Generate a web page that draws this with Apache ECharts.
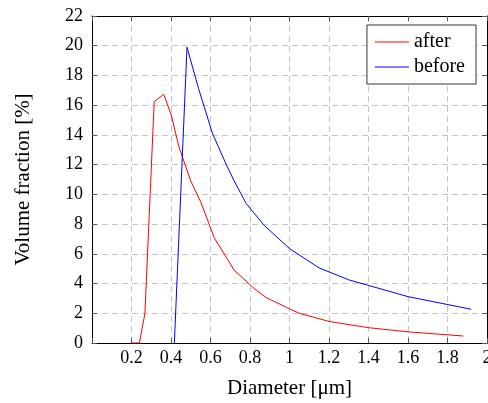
<!DOCTYPE html>
<html>
<head>
<meta charset="utf-8">
<script src="https://cdn.jsdelivr.net/npm/echarts@6/dist/echarts.min.js"></script>
<style>
  html, body { margin: 0; padding: 0; background: #fff; }
  #chart { width: 488px; height: 403px; }
</style>
</head>
<body>
<div id="chart"></div>
<script>
// Particle size distribution: volume fraction vs. diameter
const diameterAfter = [0.20, 0.24, 0.268, 0.315, 0.363, 0.40, 0.44, 0.50, 0.55, 0.62, 0.72, 0.82, 0.88, 1.00, 1.05, 1.20, 1.40, 1.60, 1.88];
const fractionAfter = [0, 0, 2.0, 16.24, 16.73, 15.4, 13.2, 10.9, 9.5, 7.05, 4.9, 3.68, 3.07, 2.3, 2.0, 1.45, 1.03, 0.75, 0.47];

const diameterBefore = [0.417, 0.481, 0.54, 0.61, 0.68, 0.72, 0.78, 0.87, 1.00, 1.15, 1.30, 1.60, 1.92];
const fractionBefore = [0, 19.9, 17.1, 14.1, 12.0, 10.9, 9.4, 7.94, 6.35, 5.05, 4.25, 3.12, 2.27];

const seriesNames = ['after', 'before'];
const seriesColors = ['#ff0000', '#0000ff'];

const xTicks = { min: 0, max: 2, interval: 0.2 };
const yTicks = { min: 0, max: 22, interval: 2 };

const pairs = (xs, ys) => xs.map((x, i) => [x, ys[i]]);

const font = '"Liberation Serif", "DejaVu Serif", serif';
const gridLine = { show: true, lineStyle: { color: '#c4c4c4', type: [6, 4], width: 1 } };
const frameLine = { show: true, onZero: false, lineStyle: { color: '#000', width: 1 } };
const innerTick = { show: true, inside: true, length: 5, lineStyle: { color: '#555', width: 1 } };

const chart = echarts.init(document.getElementById('chart'), null, { renderer: 'canvas' });
chart.setOption({
  animation: false,
  backgroundColor: '#fff',
  textStyle: { fontFamily: font },
  grid: { left: 92, right: 1, top: 16, bottom: 60, containLabel: false, outerBoundsMode: 'none' },
  legend: {
    data: seriesNames,
    orient: 'vertical',
    right: 12,
    top: 25,
    icon: 'rect',
    itemWidth: 34,
    itemHeight: 1,
    itemGap: 5,
    padding: [7, 11, 7, 8],
    borderColor: '#333',
    borderWidth: 1,
    backgroundColor: '#fff',
    textStyle: { fontFamily: font, fontSize: 20, color: '#000', width: 53, align: 'center' }
  },
  xAxis: [
    {
      type: 'value', position: 'bottom',
      min: xTicks.min, max: xTicks.max, interval: xTicks.interval,
      name: 'Diameter [μm]', nameLocation: 'middle', nameGap: 35,
      nameTextStyle: { fontFamily: font, fontSize: 21, color: '#000' },
      axisLine: frameLine, axisTick: innerTick,
      axisLabel: {
        fontFamily: font, fontSize: 18, color: '#000', margin: 6,
        formatter: v => (v === 0 ? '' : String(+v.toFixed(1)))
      },
      splitLine: gridLine
    },
    {
      type: 'value', position: 'top',
      min: xTicks.min, max: xTicks.max, interval: xTicks.interval,
      axisLine: frameLine, axisTick: innerTick,
      axisLabel: { show: false }, splitLine: { show: false }
    }
  ],
  yAxis: [
    {
      type: 'value', position: 'left',
      min: yTicks.min, max: yTicks.max, interval: yTicks.interval,
      name: 'Volume fraction [%]', nameLocation: 'middle', nameGap: 58,
      nameTextStyle: { fontFamily: font, fontSize: 21, color: '#000' },
      axisLine: frameLine, axisTick: innerTick,
      axisLabel: { fontFamily: font, fontSize: 18, color: '#000', margin: 9 },
      splitLine: gridLine
    },
    {
      type: 'value', position: 'right',
      min: yTicks.min, max: yTicks.max, interval: yTicks.interval,
      axisLine: frameLine, axisTick: innerTick,
      axisLabel: { show: false }, splitLine: { show: false }
    }
  ],
  series: [
    {
      name: seriesNames[0], type: 'line', xAxisIndex: 0, yAxisIndex: 0,
      data: pairs(diameterAfter, fractionAfter),
      showSymbol: false, symbol: 'none',
      lineStyle: { color: seriesColors[0], width: 1 }, itemStyle: { color: seriesColors[0] }
    },
    {
      name: seriesNames[1], type: 'line', xAxisIndex: 0, yAxisIndex: 0,
      data: pairs(diameterBefore, fractionBefore),
      showSymbol: false, symbol: 'none',
      lineStyle: { color: seriesColors[1], width: 1 }, itemStyle: { color: seriesColors[1] }
    }
  ]
});
</script>
</body>
</html>
